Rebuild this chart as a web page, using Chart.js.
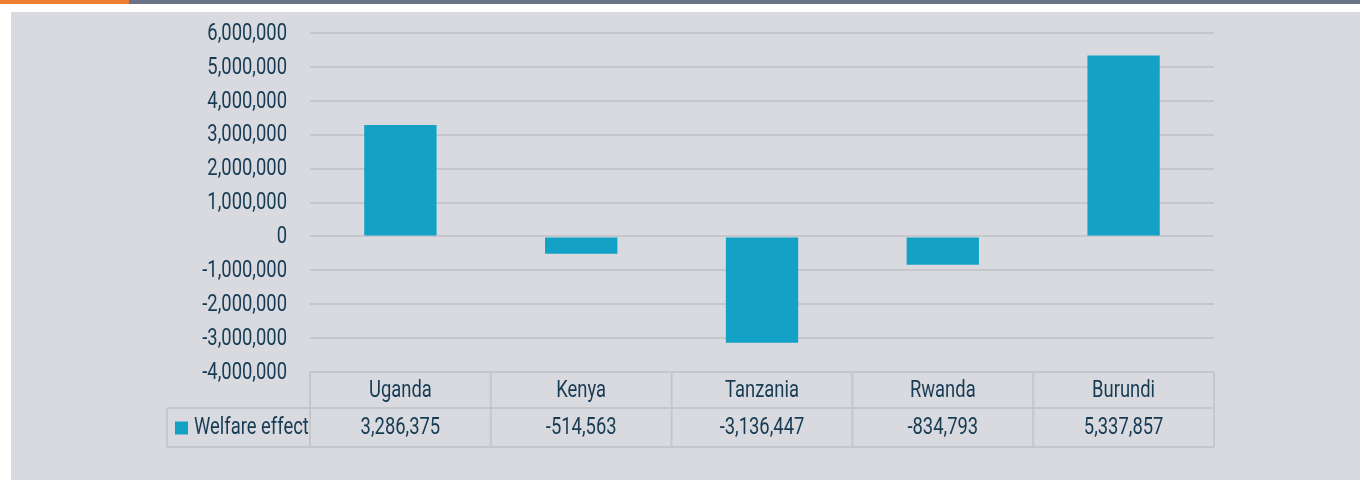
<!DOCTYPE html>
<html>
<head>
<meta charset="utf-8">
<script src="https://cdn.jsdelivr.net/npm/chart.js@4/dist/chart.umd.min.js"></script>
<style>
  body { margin: 0; background: #fff; width: 1360px; height: 480px; overflow: hidden; position: relative; }
  #barOrange { position: absolute; left: 0; top: 0; width: 129px; height: 4px; background: #ee7d31; }
  #barGray { position: absolute; left: 129px; top: 0; width: 1231px; height: 4px; background: #6b7388; }
  #panel { position: absolute; left: 11px; top: 12px; width: 1349px; height: 468px; background: #d9dadf; }
  #wrap { position: absolute; left: 0; top: 0; width: 1360px; height: 480px; }
</style>
</head>
<body>
<div id="barOrange"></div>
<div id="barGray"></div>
<div id="panel"></div>
<div id="wrap"><canvas id="bar"></canvas></div>
<script>
var countries = ["Uganda", "Kenya", "Tanzania", "Rwanda", "Burundi"];
var welfare = [3286375, -514563, -3136447, -834793, 5337857];
var seriesName = "Welfare effect";

var fontFam = "Roboto, 'Noto Sans', sans-serif";
var fontSize = 23;
var squeeze = 0.8; // fake a condensed face, none is installed
var textColor = "#163b53";
var lineColor = "#c6c7cc";
var barColor = "#13a1c6";

function fmt(v) {
  return v.toLocaleString("en-US");
}

function narrowText(ctx, txt, x, y, align) {
  ctx.save();
  ctx.translate(x, y);
  ctx.scale(squeeze, 1);
  ctx.textAlign = align;
  ctx.fillText(txt, 0, 0);
  ctx.restore();
}

// y tick labels + data table under the plot, placed from the scales
const tablePlugin = {
  id: "dataTable",
  afterDraw(chart) {
    var ctx = chart.ctx;
    var xs = chart.scales.x;
    var ys = chart.scales.y;
    var area = chart.chartArea;
    var colW = (area.right - area.left) / countries.length;
    var top = area.bottom;
    var mid = top + 36;
    var bot = mid + 39;
    var legendLeft = 167;

    ctx.save();
    ctx.strokeStyle = lineColor;
    ctx.lineWidth = 2;
    ctx.beginPath();
    ctx.moveTo(legendLeft, mid); ctx.lineTo(area.right, mid);
    ctx.moveTo(legendLeft, bot); ctx.lineTo(area.right, bot);
    ctx.moveTo(legendLeft, mid); ctx.lineTo(legendLeft, bot);
    for (var i = 0; i <= countries.length; i++) {
      var x = area.left + i * colW;
      ctx.moveTo(x, top); ctx.lineTo(x, bot);
    }
    ctx.stroke();

    ctx.fillStyle = textColor;
    ctx.font = fontSize + "px " + fontFam;
    ctx.textBaseline = "middle";

    ys.ticks.forEach(function (t) {
      narrowText(ctx, fmt(t.value), area.left - 23, ys.getPixelForValue(t.value) + 1, "right");
    });

    for (var j = 0; j < countries.length; j++) {
      var cx = xs.getPixelForValue(j);
      narrowText(ctx, countries[j], cx, (top + mid) / 2 + 1, "center");
      narrowText(ctx, fmt(welfare[j]), cx, (mid + bot) / 2 + 1, "center");
    }

    ctx.fillStyle = barColor;
    ctx.fillRect(175, (mid + bot) / 2 - 6, 13, 13);
    ctx.fillStyle = textColor;
    narrowText(ctx, seriesName, 194, (mid + bot) / 2 + 1, "left");
    ctx.restore();
  }
};

const config = {
  type: "bar",
  data: {
    labels: countries,
    datasets: [{
      label: seriesName,
      data: welfare,
      backgroundColor: barColor,
      borderWidth: 0,
      categoryPercentage: 1,
      barPercentage: 0.4
    }]
  },
  options: {
    responsive: true,
    maintainAspectRatio: false,
    animation: false,
    layout: {
      padding: { left: 0, right: 146, top: 33, bottom: 108 }
    },
    plugins: {
      legend: { display: false },
      tooltip: { enabled: false }
    },
    scales: {
      x: {
        display: false
      },
      y: {
        min: -4000000,
        max: 6000000,
        afterFit: function (scale) { scale.width = 310; },
        border: { display: false },
        grid: {
          color: lineColor,
          lineWidth: 2,
          drawTicks: false
        },
        ticks: {
          display: false,
          stepSize: 1000000
        }
      }
    }
  },
  plugins: [tablePlugin]
};

new Chart(document.getElementById("bar"), config);
</script>
</body>
</html>
